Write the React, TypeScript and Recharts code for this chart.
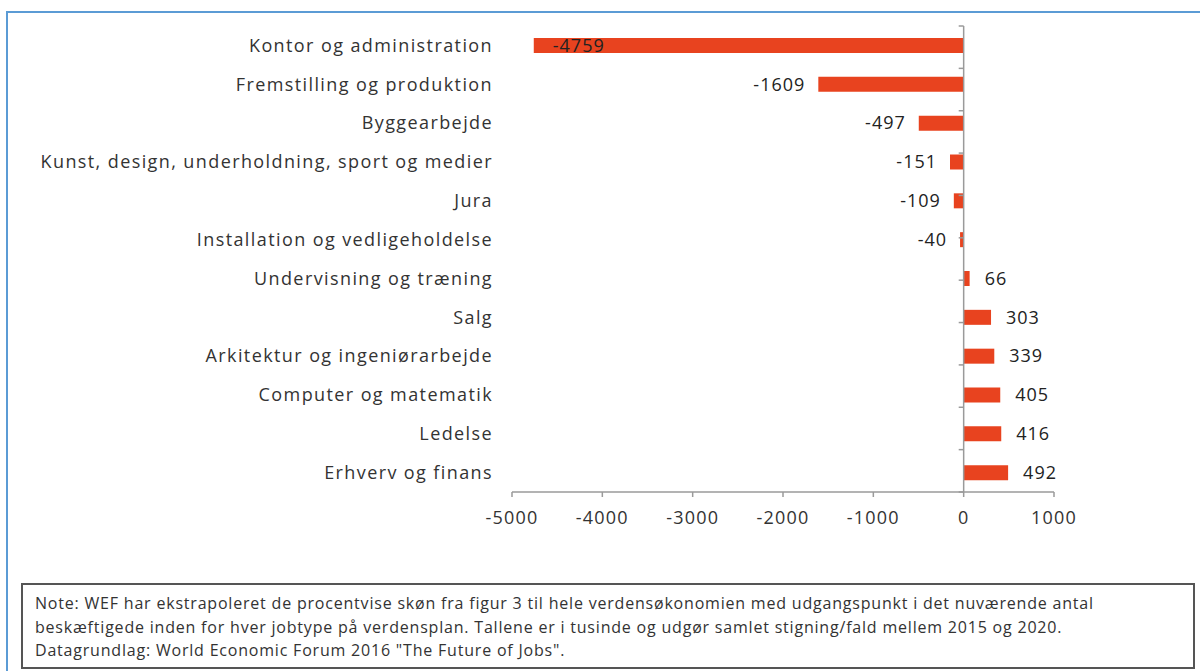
import { BarChart, Bar, XAxis, YAxis, ReferenceLine, LabelList } from 'recharts';

// Categories, top to bottom
const categories = [
  'Kontor og administration',
  'Fremstilling og produktion',
  'Byggearbejde',
  'Kunst, design, underholdning, sport og medier',
  'Jura',
  'Installation og vedligeholdelse',
  'Undervisning og træning',
  'Salg',
  'Arkitektur og ingeniørarbejde',
  'Computer og matematik',
  'Ledelse',
  'Erhverv og finans',
];

// Change in jobs 2015-2020 (thousands)
const changes = [-4759, -1609, -497, -151, -109, -40, 66, 303, 339, 405, 416, 492];

const xTicks = [-5000, -4000, -3000, -2000, -1000, 0, 1000];
const boundaryTicks = [0, 1, 2, 3, 4, 5, 6, 7, 8, 9, 10, 11, 12];

const noteLines = [
  'Note: WEF har ekstrapoleret de procentvise skøn fra figur 3 til hele verdensøkonomien med udgangspunkt i det nuværende antal',
  'beskæftigede inden for hver jobtype på verdensplan. Tallene er i tusinde og udgør samlet stigning/fald mellem 2015 og 2020.',
  'Datagrundlag: World Economic Forum 2016 "The Future of Jobs".',
];

const BAR_COLOR = '#E8431F';
const AXIS_COLOR = '#9a9a9a';
const TEXT_COLOR = '#333333';
const FONT = '"Open Sans", sans-serif';

const PLOT_LEFT = 512;

const data = categories.map((name, i) => ({ name, value: changes[i] }));

// Value label: outside the bar end, moved inside when it would leave the plot
function ValueLabel(props: any) {
  const { x, y, width, height, value } = props;
  const left = Math.min(x, x + width);
  const right = Math.max(x, x + width);
  const cy = y + height / 2;
  const labelWidth = String(value).length * 11;
  let tx = value < 0 ? left - 13 : right + 15;
  let anchor: 'start' | 'end' = value < 0 ? 'end' : 'start';
  if (value < 0 && tx - labelWidth < PLOT_LEFT) {
    tx = left + 19;
    anchor = 'start';
  }
  return (
    <text
      x={tx}
      y={cy}
      dy="0.35em"
      textAnchor={anchor}
      fontSize={18}
      letterSpacing={1}
      fontFamily={FONT}
      fill="#222"
    >
      {value}
    </text>
  );
}

export default function App() {
  return (
    <div
      style={{
        position: 'absolute',
        left: 0,
        top: 0,
        width: 1200,
        height: 671,
        background: '#fff',
        overflow: 'hidden',
        fontFamily: FONT,
      }}
    >
      <div
        style={{
          position: 'absolute',
          left: 6,
          top: 11,
          width: 1260,
          height: 720,
          border: '2px solid #5B9BD5',
        }}
      />
      <div style={{ position: 'absolute', left: 0, top: 0 }}>
        <BarChart
          width={1200}
          height={560}
          data={data}
          layout="vertical"
          margin={{ top: 26, right: 146, bottom: 28, left: 0 }}
        >
          <XAxis
            type="number"
            domain={[-5000, 1000]}
            ticks={xTicks}
            allowDataOverflow
            axisLine={{ stroke: AXIS_COLOR, strokeWidth: 1.5 }}
            tickLine={{ stroke: AXIS_COLOR, strokeWidth: 1.5 }}
            tickSize={5}
            tickMargin={14}
            height={40}
            tick={{ fill: TEXT_COLOR, fontSize: 18, fontFamily: FONT, letterSpacing: 1.2 }}
          />
          <YAxis
            type="category"
            dataKey="name"
            width={PLOT_LEFT}
            axisLine={false}
            tickLine={false}
            tickMargin={13}
            interval={0}
            tick={{ fill: TEXT_COLOR, fontSize: 18, fontFamily: FONT, letterSpacing: 1.4 }}
          />
          <YAxis yAxisId="grid" type="number" domain={[0, 12]} hide reversed />
          <ReferenceLine x={0} stroke={AXIS_COLOR} strokeWidth={1.5} />
          {boundaryTicks.map((k) => (
            <ReferenceLine
              key={k}
              yAxisId="grid"
              segment={[
                { x: -55, y: k },
                { x: 0, y: k },
              ]}
              stroke={AXIS_COLOR}
              strokeWidth={1.5}
            />
          ))}
          <Bar dataKey="value" fill={BAR_COLOR} barSize={15} isAnimationActive={false}>
            <LabelList dataKey="value" content={<ValueLabel />} />
          </Bar>
        </BarChart>
      </div>
      <div
        style={{
          position: 'absolute',
          left: 21,
          top: 583,
          width: 1174,
          height: 86,
          boxSizing: 'border-box',
          border: '2px solid #555',
          padding: '7px 0 0 12px',
          fontSize: 16,
          letterSpacing: '0.8px',
          lineHeight: '23.5px',
          color: TEXT_COLOR,
          whiteSpace: 'nowrap',
        }}
      >
        {noteLines.map((line) => (
          <div key={line}>{line}</div>
        ))}
      </div>
    </div>
  );
}
